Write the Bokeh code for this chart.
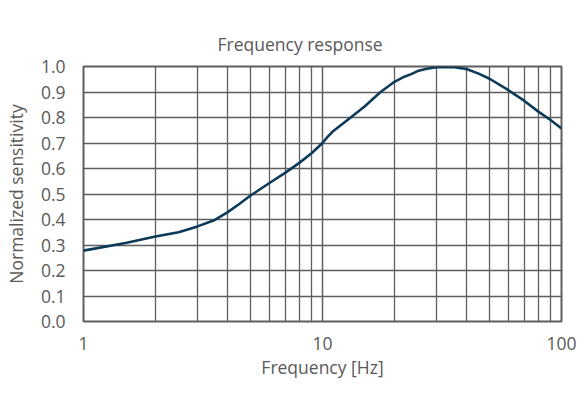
from bokeh.plotting import figure
from bokeh.models import Range1d, FixedTicker, PrintfTickFormatter
from bokeh.embed import file_html
from bokeh.resources import INLINE

# values
freq = [1, 1.5, 2, 2.5, 3, 3.5, 4, 4.5, 5, 6, 7, 8, 9, 10, 10.5, 11, 13, 15,
        17.5, 20, 22, 23.5, 25, 27, 30, 35, 40, 45, 50, 60, 70, 80, 90, 100]
sens = [0.278, 0.308, 0.333, 0.35, 0.373, 0.396, 0.428, 0.462, 0.494, 0.543,
        0.584, 0.622, 0.66, 0.70, 0.724, 0.744, 0.797, 0.843, 0.9, 0.94,
        0.96, 0.97, 0.982, 0.99, 0.997, 0.998, 0.99, 0.972, 0.952, 0.907,
        0.865, 0.823, 0.79, 0.757]

x_major = [1, 10, 100]
x_minor = [2, 3, 4, 5, 6, 7, 8, 9, 20, 30, 40, 50, 60, 70, 80, 90]
y_ticks = [0.0, 0.1, 0.2, 0.3, 0.4, 0.5, 0.6, 0.7, 0.8, 0.9, 1.0]

FONT = "Open Sans"
TXT = "#595959"
GRID = "#5e5e5e"

p = figure(width=580, height=392, x_axis_type="log",
           x_range=Range1d(1, 100), y_range=Range1d(0, 1),
           title="Frequency response",
           x_axis_label="Frequency [Hz]", y_axis_label="Normalized sensitivity",
           output_backend="svg", toolbar_location=None,
           min_border_left=83, min_border_right=19,
           min_border_top=66, min_border_bottom=71)

# title sits a bit left of the frame centre in the reference
p.title.align = "left"
p.title.offset = 134
p.title.standoff = 21
p.title.text_font = FONT
p.title.text_font_size = "17.5px"
p.title.text_font_style = "normal"
p.title.text_color = TXT

p.xaxis.ticker = FixedTicker(ticks=x_major, minor_ticks=x_minor)
p.xaxis.formatter = PrintfTickFormatter(format="%d")
p.yaxis.ticker = FixedTicker(ticks=y_ticks)
p.yaxis.formatter = PrintfTickFormatter(format="%.1f")

for ax in (p.xaxis, p.yaxis):
    ax.axis_line_color = None
    ax.major_tick_line_color = None
    ax.minor_tick_line_color = None
    ax.major_label_text_font = FONT
    ax.major_label_text_font_size = "17.5px"
    ax.major_label_text_color = TXT
    ax.axis_label_text_font = FONT
    ax.axis_label_text_font_size = "17.5px"
    ax.axis_label_text_font_style = "normal"
    ax.axis_label_text_color = TXT

p.xaxis.major_label_standoff = 9
p.xaxis.axis_label_standoff = 2
p.yaxis.major_label_standoff = 12
p.yaxis.axis_label_standoff = 10

p.xgrid.grid_line_color = GRID
p.xgrid.grid_line_width = 1.5
p.xgrid.minor_grid_line_color = GRID
p.xgrid.minor_grid_line_width = 1.3
p.ygrid.grid_line_color = GRID
p.ygrid.grid_line_width = 1.5

p.outline_line_color = GRID
p.outline_line_width = 2

p.line(freq, sens, line_color="#0d3a58", line_width=2.6)

open("out.html", "w").write(file_html(p, INLINE))
